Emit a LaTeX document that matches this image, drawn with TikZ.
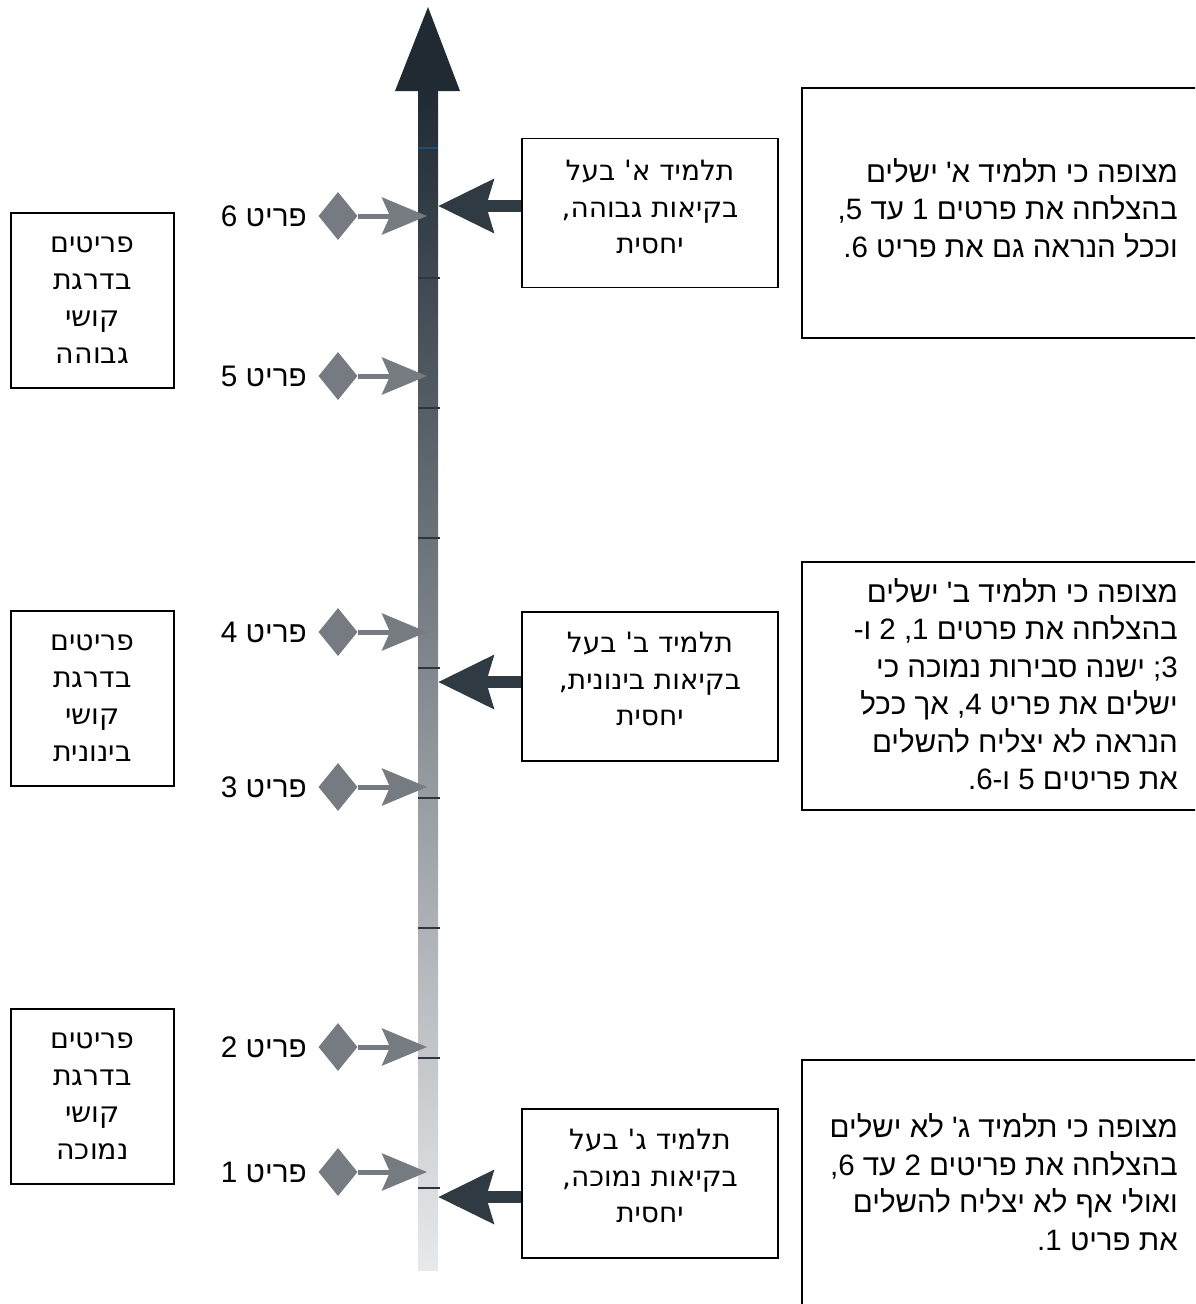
\documentclass[tikz,border=0pt]{standalone}
\usepackage{fontspec}
\usetikzlibrary{arrows.meta,shapes.geometric}
\TeXXeTstate=1
\newfontfamily\hebA[Script=Hebrew,Ligatures=TeXOff]{Liberation Sans}
\newfontfamily\hebB[Script=Hebrew,Ligatures=TeXOff]{DejaVu Sans}
\definecolor{axisdark}{HTML}{1F2A33}
\definecolor{axislight}{HTML}{E8E9EB}
\definecolor{markgray}{HTML}{767B81}
\definecolor{studdark}{HTML}{2F3A43}
\definecolor{tickdark}{HTML}{2B3640}
\definecolor{tickblue}{HTML}{1F4E7A}
\newcommand{\RL}[1]{\beginR #1\endR}
\tikzset{
  itemdia/.style={diamond, fill=markgray, minimum width=39pt, minimum height=48pt, inner sep=0pt},
  itemarrow/.style={draw=markgray, line width=5pt, -{Stealth[length=45pt,width=37pt,inset=8pt]}},
  itemlabel/.style={font=\hebA\fontsize{29.7}{34}\selectfont, inner sep=0pt},
  studarrow/.style={draw=studdark, line width=12pt, -{Stealth[length=55pt,width=52pt,inset=7pt]}},
  studbox/.style={draw=black, line width=1.5pt, minimum width=256pt, minimum height=149pt, inner sep=0pt},
  studtext/.style={inner sep=0pt, align=center, font=\hebB\fontsize{28}{36.5}\selectfont},
  levelbox/.style={draw=black, line width=1.5pt, minimum width=163pt, minimum height=175pt, inner sep=0pt, align=center, font=\hebB\fontsize{28.5}{37}\selectfont},
  descbox/.style={draw=black, line width=1.5pt, inner sep=0pt},
  desctext/.style={inner sep=0pt, align=right, font=\hebA\fontsize{29.5}{37.5}\selectfont},
  tickline/.style={draw=tickdark, line width=1.6pt}
}
\begin{document}
\begin{tikzpicture}[x=1pt,y=-1pt]
\useasboundingbox (0,0) rectangle (1195,1304);
\clip (0,0) rectangle (1195,1304);
% axis
\shade[top color=axisdark, bottom color=axislight] (418,90) rectangle (438,1270);
\fill[axisdark] (428,7) -- (460,91) -- (395,91) -- cycle;
\draw[tickline, draw=tickblue] (418,148) -- (438,148);
\foreach \ty in {278,408,538,668,798,928,1058,1188}
  \draw[tickline] (418,\ty) -- (440,\ty);
% items
\foreach \n/\yy in {6/216,5/376,4/632,3/787,2/1047,1/1172} {
  \node[itemdia] (d\n) at (338,\yy) {};
  \coordinate (t\n) at (427,\yy);
  \draw[itemarrow] (d\n.east) -- (t\n);
  \node[itemlabel, anchor=east] (l\n) at (307,\yy) {\RL{פריט \n}};
}
% level boxes
\node[levelbox] (la) at (92.5,300.5) {\RL{פריטים}\\\RL{בדרגת}\\\RL{קושי}\\\RL{גבוהה}};
\node[levelbox] (lb) at (92.5,698.5) {\RL{פריטים}\\\RL{בדרגת}\\\RL{קושי}\\\RL{בינונית}};
\node[levelbox] (lc) at (92.5,1096.5) {\RL{פריטים}\\\RL{בדרגת}\\\RL{קושי}\\\RL{נמוכה}};
% student boxes
\node[studbox] (sa) at (650,213) {};
\node[studbox] (sb) at (650,686.5) {};
\node[studbox] (sc) at (650,1183.5) {};
\node[studtext] (sat) at (650,207) {\RL{תלמיד א' בעל}\\\RL{בקיאות גבוהה,}\\\RL{יחסית}};
\node[studtext] (sbt) at (650,679) {\RL{תלמיד ב' בעל}\\\RL{בקיאות בינונית,}\\\RL{יחסית}};
\node[studtext] (sct) at (650,1176) {\RL{תלמיד ג' בעל}\\\RL{בקיאות נמוכה,}\\\RL{יחסית}};
\coordinate (ta) at (438,206);
\coordinate (tb) at (438,682);
\coordinate (tc) at (438,1197);
\draw[studarrow] (sa.west |- ta) -- (ta);
\draw[studarrow] (sb.west |- tb) -- (tb);
\draw[studarrow] (sc.west |- tc) -- (tc);
% description boxes
\node[descbox, minimum width=408pt, minimum height=250pt] (ra) at (1006,213) {};
\node[descbox, minimum width=408pt, minimum height=248pt] (rb) at (1006,686) {};
\node[descbox, minimum width=408pt, minimum height=280pt] (rc) at (1006,1200) {};
\node[desctext, anchor=east] (rat) at (1178,208) {\RL{מצופה כי תלמיד א' ישלים}\\\RL{בהצלחה את פרטים 1 עד 5,}\\\RL{וככל הנראה גם את פריט 6.}};
\node[desctext, anchor=east] (rbt) at (1178,684) {\RL{מצופה כי תלמיד ב' ישלים}\\\RL{בהצלחה את פרטים 1, 2 ו-}\\\RL{3; ישנה סבירות נמוכה כי}\\\RL{ישלים את פריט 4, אך ככל}\\\RL{הנראה לא יצליח להשלים}\\\RL{את פריטים 5 ו-6.}};
\node[desctext, anchor=east] (rct) at (1178,1182) {\RL{מצופה כי תלמיד ג' לא ישלים}\\\RL{בהצלחה את פריטים 2 עד 6,}\\\RL{ואולי אף לא יצליח להשלים}\\\RL{את פריט 1.}};
\end{tikzpicture}
\end{document}
